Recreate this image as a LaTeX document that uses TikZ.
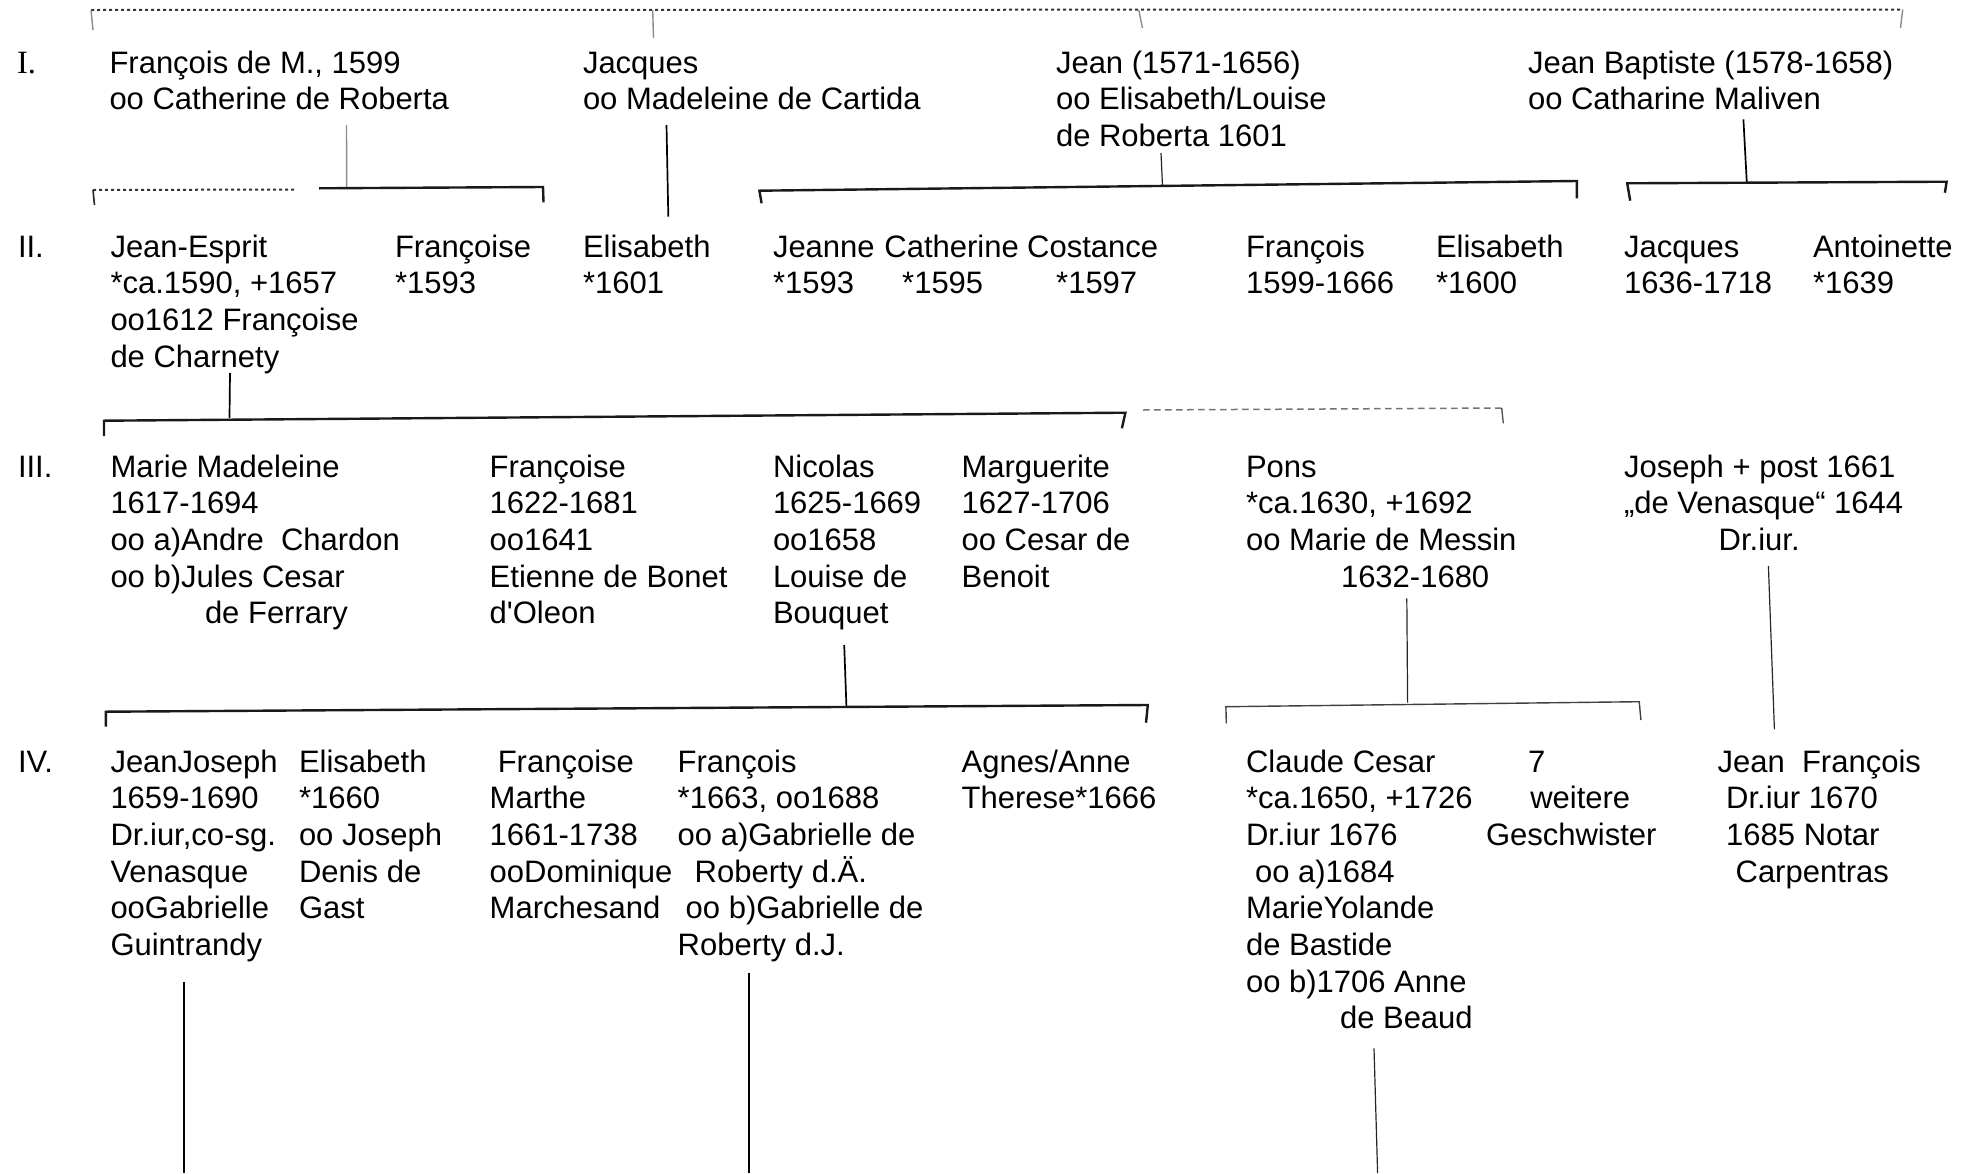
\documentclass[tikz,border=0pt]{standalone}
\usepackage{fontspec}
\setmainfont{Liberation Sans}[Ligatures=TeXOff]
\newfontfamily\romanI{Liberation Serif}
\tikzset{
  pers/.style={anchor=north west, inner sep=0pt, outer sep=0pt, align=left,
    font=\fontsize{31}{36.7}\selectfont},
  brk/.style={line width=2.4pt, black!90, line cap=butt},
  brkthin/.style={line width=1.4pt, black!75},
  stem/.style={line width=1.7pt, black},
  stemthin/.style={line width=1.2pt, black!85},
  graystem/.style={line width=1.4pt, black!45},
  dotl/.style={line width=2pt, black!80, dash pattern=on 3pt off 3pt},
  dashl/.style={line width=1.5pt, black!55, dash pattern=on 6.5pt off 4.5pt},
}
\begin{document}
\begin{tikzpicture}[x=1pt,y=-1pt]
\useasboundingbox (0,0) rectangle (1975,1173);

% ---------- generation numerals
\node[pers] (numI)   at (17,47.31)  {\romanI\fontsize{32.5}{36.7}\selectfont\strut I.};
\node[pers] (numII)  at (18,231.31) {\strut II.};
\node[pers] (numIII) at (18,451.31) {\strut III.};
\node[pers] (numIV)  at (18,746.31) {\strut IV.};

% ---------- generation I
\node[pers] (p1) at (109.5,47.31) {\strut François de M., 1599\\oo Catherine de Roberta};
\node[pers] (p2) at (583,47.31)   {\strut Jacques\\oo Madeleine de Cartida};
\node[pers] (p3) at (1056,47.31)  {\strut Jean (1571-1656)\\oo Elisabeth/Louise\\de Roberta 1601};
\node[pers] (p4) at (1528,47.31)  {\strut Jean Baptiste (1578-1658)\\oo Catharine Maliven};

% ---------- generation II
\node[pers] (c1)  at (110.5,231.31) {\strut Jean-Esprit\\*ca.1590, +1657\\oo1612 Françoise\\de Charnety};
\node[pers] (c2)  at (395,231.31)   {\strut Françoise\\*1593};
\node[pers] (c3)  at (583,231.31)   {\strut Elisabeth\\*1601};
\node[pers] (c4)  at (773,231.31)   {\strut Jeanne\\*1593};
\node[pers] (c5)  at (884.4,231.31) {\strut Catherine\\\hspace*{17.8pt}*1595};
\node[pers] (c6)  at (1027.2,231.31){\strut Costance\\\hspace*{29pt}*1597};
\node[pers] (c7)  at (1246,231.31)  {\strut François\\1599-1666};
\node[pers] (c8)  at (1436,231.31)  {\strut Elisabeth\\*1600};
\node[pers] (c9)  at (1624,231.31)  {\strut Jacques\\1636-1718};
\node[pers] (c10) at (1813,231.31)  {\strut Antoinette\\*1639};

% ---------- generation III
\node[pers] (g1) at (110.5,451.31) {\strut Marie Madeleine\\1617-1694\\oo a)Andre\ \ Chardon\\oo b)Jules Cesar\\\hspace*{94.5pt}de Ferrary};
\node[pers] (g2) at (489.7,451.31) {\strut Françoise\\1622-1681\\oo1641\\Etienne de Bonet\\d'Oleon};
\node[pers] (g3) at (773,451.31)   {\strut Nicolas\\1625-1669\\oo1658\\Louise de\\Bouquet};
\node[pers] (g4) at (961.6,451.31) {\strut Marguerite\\1627-1706\\oo Cesar de\\Benoit};
\node[pers] (g5) at (1246,451.31)  {\strut Pons\\*ca.1630, +1692\\oo Marie de Messin\\\hspace*{95pt}1632-1680};
\node[pers] (g6) at (1624,451.31)  {\strut Joseph + post 1661\\„de Venasque“ 1644\\\hspace*{94.7pt}Dr.iur.};

% ---------- generation IV
\node[pers] (k1) at (110.5,746.31) {\strut JeanJoseph\\1659-1690\\Dr.iur,co-sg.\\Venasque\\ooGabrielle\\Guintrandy};
\node[pers] (k2) at (299,746.31)   {\strut Elisabeth\\*1660\\oo Joseph\\Denis de\\Gast};
\node[pers] (k3) at (489.7,746.31) {\strut\hspace*{8.1pt}Françoise\\Marthe\\1661-1738\\ooDominique\\Marchesand};
\node[pers] (k4) at (677.7,746.31) {\strut François\\*1663, oo1688\\oo a)Gabrielle de\\\hspace*{17pt}Roberty d.Ä.\\\hspace*{8pt}oo b)Gabrielle de\\Roberty d.J.};
\node[pers] (k5) at (961.6,746.31) {\strut Agnes/Anne\\Therese*1666};
\node[pers] (k6) at (1246,746.31)  {\strut Claude Cesar\\*ca.1650, +1726\\Dr.iur 1676\\\hspace*{9pt}oo a)1684\\MarieYolande\\de Bastide\\oo b)1706 Anne\\\hspace*{94pt}de Beaud};
\node[pers] (k7) at (1486,746.31)  {\strut\hspace*{42.2pt}7\\\hspace*{44.3pt}weitere\\Geschwister};
\node[pers] (k8) at (1717.6,746.31){\strut Jean\ \ François\\\hspace*{8.6pt}Dr.iur 1670\\\hspace*{8.6pt}1685 Notar\\\hspace*{18pt}Carpentras};

% ---------- top (dotted) bracket over generation I
\coordinate (t0) at (91,10);      \coordinate (t0b) at (93,30);
\coordinate (t1) at (652.7,10);   \coordinate (t1b) at (653.5,38);
\coordinate (t2) at (1138.8,10);  \coordinate (t2b) at (1142.4,28);
\coordinate (t3) at (1902.7,9.5); \coordinate (t3b) at (1900.5,28);
\draw[dotl] (t0) -- (t3);
\draw[graystem] (t0) -- (t0b);
\draw[graystem] (t1) -- (t1b);
\draw[graystem] (t2) -- (t2b);
\draw[graystem] (t3) -- (t3b);

% ---------- François de M. -> children
\coordinate (f1s) at (346.5,125);   \coordinate (f1e) at (346.7,188);
\coordinate (f1l) at (93,190);      \coordinate (f1lb) at (94.5,205);
\coordinate (f1m) at (296.7,189.5);
\coordinate (f1n) at (319,188.3);   \coordinate (f1r) at (543,187);
\coordinate (f1rb) at (543.5,202.3);
\draw[graystem] (f1s) -- (f1e);
\draw[dotl] (f1l) -- (f1m);
\draw[line width=1.6pt, black!85] (f1l) -- (f1lb);
\draw[brk] (f1n) -- (f1r) -- (f1rb);

% ---------- Jacques -> Elisabeth
\coordinate (j1s) at (666.5,125);   \coordinate (j1e) at (668.3,216.7);
\draw[stem] (j1s) -- (j1e);

% ---------- Jean -> children
\coordinate (je1) at (1161,153);    \coordinate (je2) at (1162.5,186);
\coordinate (jel) at (759.4,190.7); \coordinate (jelb) at (761.6,203.3);
\coordinate (jer) at (1576.8,181);  \coordinate (jerb) at (1576.8,198.3);
\draw[stemthin] (je1) -- (je2);
\draw[brk] (jelb) -- (jel) -- (jer) -- (jerb);

% ---------- Jean Baptiste -> children
\coordinate (jb1) at (1743.4,119.3); \coordinate (jb2) at (1746.8,182.7);
\coordinate (jbl) at (1627.2,183.3); \coordinate (jblb) at (1630.2,200.7);
\coordinate (jbr) at (1946.6,181.7); \coordinate (jbrb) at (1944.9,192.7);
\draw[stem] (jb1) -- (jb2);
\draw[brk] (jblb) -- (jbl) -- (jbr) -- (jbrb);

% ---------- Jean-Esprit -> children
\coordinate (es1) at (230,373);      \coordinate (es2) at (229.5,418);
\coordinate (esl) at (104,420.7);    \coordinate (eslb) at (104,436);
\coordinate (esr) at (1125.4,412.7); \coordinate (esrb) at (1121.9,428.3);
\draw[stem] (es1) -- (es2);
\draw[brk] (eslb) -- (esl) -- (esr) -- (esrb);

% ---------- dashed link to Pons
\coordinate (ds1) at (1143,410);     \coordinate (ds2) at (1501.7,408);
\coordinate (ds2b) at (1503.3,423.3);
\draw[dashl] (ds1) -- (ds2);
\draw[line width=1.3pt, black!70] (ds2) -- (ds2b);

% ---------- Nicolas -> children
\coordinate (ni1) at (844.2,645);    \coordinate (ni2) at (846.4,706);
\coordinate (nil) at (105.8,711.7);  \coordinate (nilb) at (105.8,726.7);
\coordinate (nir) at (1147.8,705);   \coordinate (nirb) at (1146,722.7);
\draw[stem] (ni1) -- (ni2);
\draw[brk] (nilb) -- (nil) -- (nir) -- (nirb);

% ---------- Pons -> children
\coordinate (po1) at (1406.8,598.3); \coordinate (po2) at (1407.6,702.5);
\coordinate (pol) at (1225.9,706.7); \coordinate (polb) at (1226.3,723.3);
\coordinate (por) at (1639.2,701.7); \coordinate (porb) at (1640.9,720);
\draw[stemthin] (po1) -- (po2);
\draw[brkthin] (polb) -- (pol) -- (por) -- (porb);

% ---------- Joseph -> Jean François
\coordinate (jo1) at (1768.4,566);   \coordinate (jo2) at (1774.4,729.3);
\draw[stemthin] (jo1) -- (jo2);

% ---------- descendants of generation IV
\coordinate (d1a) at (184,981.7);    \coordinate (d1b) at (184,1173);
\coordinate (d2a) at (749,973);      \coordinate (d2b) at (749,1173);
\coordinate (d3a) at (1374,1048.3);  \coordinate (d3b) at (1377.6,1173);
\draw[stem] (d1a) -- (d1b);
\draw[stem] (d2a) -- (d2b);
\draw[stemthin] (d3a) -- (d3b);
\end{tikzpicture}
\end{document}
